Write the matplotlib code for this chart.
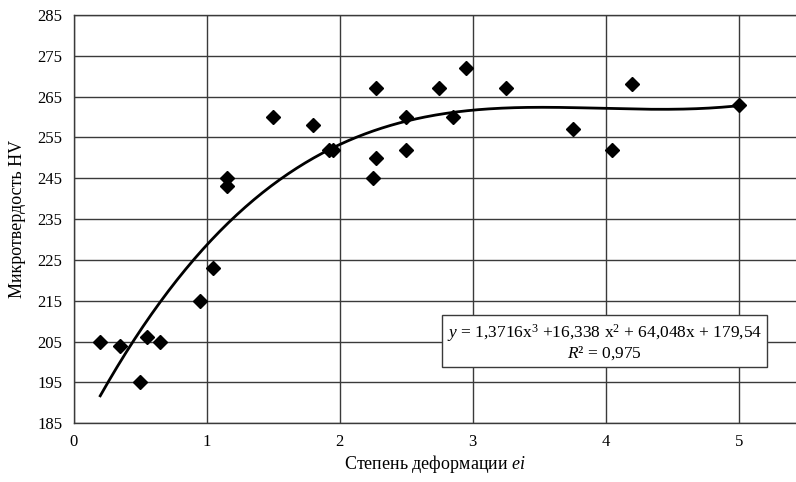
import numpy as np
import matplotlib
matplotlib.use("Agg")
import matplotlib.pyplot as plt

plt.rcParams['font.family'] = ['Liberation Serif', 'DejaVu Serif']
plt.rcParams['mathtext.fontset'] = 'custom'
plt.rcParams['mathtext.rm'] = 'Liberation Serif'
plt.rcParams['mathtext.it'] = 'Liberation Serif:italic'

# data
strain = [0.2, 0.35, 0.5, 0.55, 0.65, 0.95, 1.05, 1.15, 1.15, 1.5, 1.8, 1.92, 1.95,
          2.27, 2.27, 2.25, 2.5, 2.5, 2.75, 2.95, 2.85, 3.25, 3.75, 4.05, 4.2, 5.0]
hardness = [205, 204, 195, 206, 205, 215, 223, 245, 243, 260, 258, 252, 252,
            267, 250, 245, 260, 252, 267, 272, 260, 267, 257, 252, 268, 263]
# trend line coefficients (cubic)
trend_coef = [1.3716, -16.338, 64.048, 179.54]
trend_range = [0.2, 5.0]
x_ticks = [0, 1, 2, 3, 4, 5]
y_ticks = [185, 195, 205, 215, 225, 235, 245, 255, 265, 275, 285]

fig = plt.figure(figsize=(7.96, 4.82), dpi=100)
ax = fig.add_axes([0.0925, 0.122, 0.9075, 0.847])

xs = np.linspace(trend_range[0], trend_range[1], 300)
ax.plot(xs, np.polyval(trend_coef, xs), color='black', lw=2.0, zorder=3)
ax.plot(strain, hardness, linestyle='none', marker='D', color='black', markersize=7, zorder=4)

ax.set_xlim(0, 5.43)
ax.set_ylim(185, 285)
ax.set_xticks(x_ticks)
ax.set_yticks(y_ticks)
ax.tick_params(length=0, labelsize=12, pad=8)
ax.grid(True, color='#3a3a3a', lw=1.0)
ax.set_axisbelow(True)
for s in ['left', 'bottom', 'top']:
    ax.spines[s].set_color('#3a3a3a')
    ax.spines[s].set_linewidth(1.0)
ax.spines['right'].set_visible(False)

ax.set_xlabel('Степень деформации $\\mathit{ei}$', fontsize=13, labelpad=2)
ax.set_ylabel('Микротвердость HV', fontsize=13, labelpad=8)

ax.text(3.99, 204.8,
        '$\\mathit{y}$ = 1,3716x$^3$ +16,338 x$^2$ + 64,048x + 179,54\n$\\mathit{R}$² = 0,975',
        ha='center', va='center', fontsize=12.5, linespacing=1.0, zorder=5,
        bbox=dict(boxstyle='square,pad=0.3', fc='white', ec='#3a3a3a', lw=1.0))

fig.savefig('out.png', dpi=100)
